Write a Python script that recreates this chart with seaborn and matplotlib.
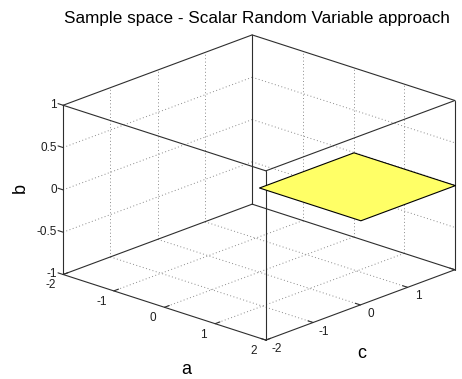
import numpy as np
import matplotlib
matplotlib.use("Agg")
import matplotlib.pyplot as plt
import seaborn as sns
from mpl_toolkits.mplot3d import proj3d

sns.set_theme(style="white")
plt.rcParams['font.family'] = ['Liberation Sans', 'DejaVu Sans']

# ---- data ----
a_ticks = [-2, -1, 0, 1, 2]
c_ticks = [-2, -1, 0, 1, 2]
b_ticks = [-1, -0.5, 0, 0.5, 1]
a_tick_labels = ['-2', '-1', '0', '1', '2']
c_tick_labels = ['-2', '-1', '0', '1']          # label at c=2 not shown in the original
b_tick_labels = ['-1', '-0.5', '0', '0.5', '1']
a_range = [-2, 2]
c_range = [-2, 2]
b_range = [-1, 1]
# event region: a in [0,2], c in [0,2], b = 0
region_a = [0, 2]
region_c = [0, 2]
region_b = 0.0
title = "Sample space - Scalar Random Variable approach"

W, H = 462, 379
fig = plt.figure(figsize=(W / 100, H / 100), dpi=100)
fig.patch.set_facecolor('white')
ax = fig.add_axes([0, 0, 1, 1], projection='3d', computed_zorder=False)
ax.set_proj_type('ortho')
ax.view_init(elev=20.3, azim=-47.0)
ax.set_box_aspect((1, 1, 0.651))
ax.set_xlim(*a_range)
ax.set_ylim(*c_range)
ax.set_zlim(*b_range)
ax.set_axis_off()
ax.patch.set_alpha(0)

grid_kw = dict(color='#8a8a8a', lw=0.7, linestyle=(0, (1, 2.5)), zorder=1)
a0, a1 = a_range
c0, c1 = c_range
b0, b1 = b_range
# floor grid (b = min)
for a in a_ticks[1:-1]:
    ax.plot([a, a], [c0, c1], [b0, b0], **grid_kw)
for c in c_ticks[1:-1]:
    ax.plot([a0, a1], [c, c], [b0, b0], **grid_kw)
# left wall (a = min)
for c in c_ticks[1:-1]:
    ax.plot([a0, a0], [c, c], [b0, b1], **grid_kw)
for b in b_ticks[1:-1]:
    ax.plot([a0, a0], [c0, c1], [b, b], **grid_kw)
# back wall (c = max)
for a in a_ticks[1:-1]:
    ax.plot([a, a], [c1, c1], [b0, b1], **grid_kw)
for b in b_ticks[1:-1]:
    ax.plot([a0, a1], [c1, c1], [b, b], **grid_kw)

# box edges
edge_kw = dict(color='#2e2e2e', lw=0.8, zorder=2)
for c in c_range:
    for b in b_range:
        ax.plot([a0, a1], [c, c], [b, b], **edge_kw)
for a in a_range:
    for b in b_range:
        ax.plot([a, a], [c0, c1], [b, b], **edge_kw)
for a in a_range:
    for c in c_range:
        ax.plot([a, a], [c, c], [b0, b1], **edge_kw)

# tick marks
tk = 0.1
for a in a_ticks:
    ax.plot([a, a], [c0, c0 + tk], [b0, b0], **edge_kw)
for c in c_ticks:
    ax.plot([a1, a1 - tk], [c, c], [b0, b0], **edge_kw)
for b in b_ticks:
    ax.plot([a0, a0 - tk], [c0, c0], [b, b], **edge_kw)

# event region plane
A, C = np.meshgrid(region_a, region_c)
B = np.full_like(A, region_b, dtype=float)
ax.plot_surface(A, C, B, color='#ffff66', edgecolor='black', linewidth=0.8,
                shade=False, zorder=3)


def to_pixels(x, y, z):
    xs, ys, _ = proj3d.proj_transform(np.atleast_1d(np.asarray(x, float)),
                                      np.atleast_1d(np.asarray(y, float)),
                                      np.atleast_1d(np.asarray(z, float)),
                                      ax.get_proj())
    return ax.transData.transform(np.c_[xs, ys])


# ---- fit axes so the box lands where it should in the figure ----
fig.canvas.draw()
corners = np.array([[x, y, z] for x in a_range for y in c_range for z in b_range], float)
pix = to_pixels(corners[:, 0], corners[:, 1], corners[:, 2])
bb = ax.get_position()
axc = np.array([(bb.x0 + bb.x1) / 2 * W, (bb.y0 + bb.y1) / 2 * H])
size = bb.width * W
bw = pix[:, 0].max() - pix[:, 0].min()
bh = pix[:, 1].max() - pix[:, 1].min()
bc = np.array([(pix[:, 0].max() + pix[:, 0].min()) / 2, (pix[:, 1].max() + pix[:, 1].min()) / 2])
tx0, tx1, ty0, ty1 = 63, 455, 35, 340      # target box extents (pixels from top-left)
tw, th = tx1 - tx0, ty1 - ty0
tc = np.array([(tx0 + tx1) / 2, H - (ty0 + ty1) / 2])
k = (tw / bw + th / bh) / 2
new_size = size * k
new_c = tc - k * (bc - axc)
ax.set_position([(new_c[0] - new_size / 2) / W, (new_c[1] - new_size / 2) / H,
                 new_size / W, new_size / H])
fig.canvas.draw()

# ---- tick labels (placed in 2D at projected tick positions) ----
tick_fs = 8.5
tick_col = '#1e1e1e'
for a, lab in zip(a_ticks, a_tick_labels):
    px, py = to_pixels(a, c0, b0)[0]
    fig.text((px - 12) / W, (py - 11) / H, lab, ha='center', va='center',
             fontsize=tick_fs, color=tick_col)
for c, lab in zip(c_ticks, c_tick_labels):
    px, py = to_pixels(a1, c, b0)[0]
    fig.text((px + 10.5) / W, (py - 9) / H, lab, ha='center', va='center',
             fontsize=tick_fs, color=tick_col)
for b, lab in zip(b_ticks, b_tick_labels):
    px, py = to_pixels(a0, c0, b)[0]
    fig.text((px - 6) / W, py / H, lab, ha='right', va='center',
             fontsize=tick_fs, color=tick_col)

# axis labels and title
fig.text(186 / W, 1 - 370 / H, 'a', ha='center', va='center', fontsize=13, color='black')
fig.text(362 / W, 1 - 354 / H, 'c', ha='center', va='center', fontsize=13, color='black')
fig.text(20 / W, 1 - 188 / H, 'b', ha='center', va='center', fontsize=13, rotation=90, color='black')
fig.text(257 / W, 1 - 19 / H, title, ha='center', va='center', fontsize=12.3, color='black')

fig.savefig('out.png', dpi=100, facecolor='white')
